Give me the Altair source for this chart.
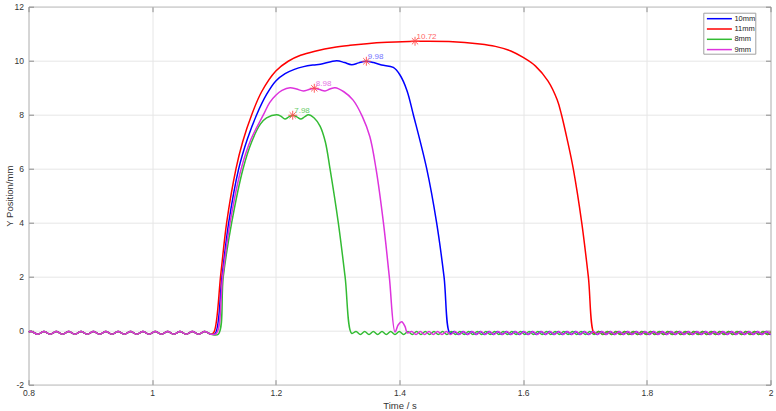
import altair as alt
import pandas as pd

series_names = ["10mm", "11mm", "8mm", "9mm"]
series_colors = ["#0000ff", "#ff0000", "#33bb33", "#dd33dd"]

x_ticks = [0.8, 1.0, 1.2, 1.4, 1.6, 1.8, 2.0]
y_ticks = [-2, 0, 2, 4, 6, 8, 10, 12]

# baseline ripple before the rise (all four series coincide here)
pre_t = [0.800, 0.805, 0.815, 0.825, 0.835, 0.845, 0.855, 0.865, 0.875, 0.885,
         0.895, 0.905, 0.915, 0.925, 0.935, 0.945, 0.955, 0.965, 0.975, 0.985,
         0.995, 1.005, 1.015, 1.025, 1.035, 1.045, 1.055, 1.065, 1.075, 1.085, 1.095]
pre_y = [-0.04, -0.03, -0.13, -0.03, -0.13, -0.03, -0.13, -0.03, -0.13, -0.03,
         -0.13, -0.03, -0.13, -0.03, -0.13, -0.03, -0.13, -0.03, -0.13, -0.03,
         -0.13, -0.03, -0.13, -0.03, -0.13, -0.03, -0.13, -0.03, -0.13, -0.03, -0.13]

# main stroke of each series (rise, plateau, fall)
t_10mm = [1.102, 1.1129, 1.1238, 1.140, 1.154, 1.169, 1.185, 1.200, 1.215, 1.230,
          1.245, 1.2606, 1.272, 1.2985, 1.311, 1.3227, 1.334, 1.346, 1.358, 1.371,
          1.390, 1.4008, 1.412, 1.4224, 1.444, 1.460, 1.472, 1.4817]
y_10mm = [-0.1, 2.0, 4.0, 6.0, 7.1, 8.0, 8.75, 9.25, 9.52, 9.68,
          9.78, 9.84, 9.87, 10.0, 9.93, 9.85, 9.92, 9.98, 9.93, 9.84,
          9.75, 9.47, 8.9, 8.0, 6.0, 4.0, 2.0, -0.1]

t_11mm = [1.100, 1.111, 1.1205, 1.1356, 1.1464, 1.161, 1.177, 1.200, 1.220, 1.240,
          1.265, 1.293, 1.320, 1.347, 1.380, 1.425, 1.480, 1.530, 1.555, 1.580,
          1.600, 1.620, 1.640, 1.655, 1.662, 1.672, 1.681, 1.6947, 1.7054, 1.7151]
y_11mm = [-0.05, 2.1, 4.0, 6.0, 7.0, 8.0, 8.85, 9.62, 9.98, 10.2,
          10.36, 10.49, 10.57, 10.63, 10.68, 10.72, 10.71, 10.62, 10.53, 10.36,
          10.12, 9.8, 9.25, 8.55, 8.0, 7.0, 6.0, 4.0, 2.0, -0.1]

t_8mm = [1.107, 1.115, 1.1286, 1.147, 1.161, 1.175, 1.185, 1.2014, 1.208, 1.2148,
         1.221, 1.2273, 1.234, 1.2403, 1.247, 1.2526, 1.262, 1.2715, 1.280, 1.2876,
         1.301, 1.312, 1.3227]
y_8mm = [-0.13, 2.0, 4.0, 6.0, 7.0, 7.65, 7.88, 8.0, 7.95, 7.84,
         7.92, 7.98, 7.92, 7.84, 7.93, 8.0, 7.88, 7.58, 7.0, 6.0,
         4.0, 2.0, -0.1]

t_9mm = [1.104, 1.114, 1.126, 1.144, 1.160, 1.180, 1.190, 1.200, 1.210, 1.223,
         1.2335, 1.2445, 1.2535, 1.2622, 1.271, 1.2796, 1.2875, 1.2957, 1.310, 1.325,
         1.340, 1.352, 1.362, 1.374, 1.3835, 1.3928, 1.398, 1.4036, 1.409, 1.4127]
y_9mm = [-0.1, 2.0, 4.0, 6.0, 7.1, 8.0, 8.45, 8.72, 8.9, 9.0,
         8.95, 8.88, 8.93, 8.98, 8.93, 8.88, 8.95, 9.0, 8.85, 8.54,
         7.93, 7.19, 6.0, 4.0, 2.0, -0.05, 0.22, 0.33, 0.15, -0.08]

# residual ripple after each fall, sampled every half period (0.007 s)
rip_half = 0.007
rip_10mm = [-0.03, -0.14, -0.03, -0.14, -0.03, -0.14, -0.03, -0.14, -0.03, -0.14,
            -0.03, -0.14, -0.03, -0.14, -0.03, -0.14, -0.03, -0.14, -0.03, -0.14,
            -0.03, -0.14, -0.03, -0.14, -0.03, -0.14, -0.03, -0.14, -0.03, -0.14,
            -0.03, -0.14, -0.03, -0.14, -0.03, -0.14, -0.03, -0.14, -0.03, -0.14,
            -0.03, -0.14, -0.03, -0.14, -0.03, -0.14, -0.03, -0.14, -0.03, -0.14,
            -0.03, -0.14, -0.03, -0.14, -0.03, -0.14, -0.03, -0.14, -0.03, -0.14,
            -0.03, -0.14, -0.03, -0.14, -0.03, -0.14, -0.03, -0.14, -0.03, -0.14,
            -0.03, -0.14, -0.03, -0.14, -0.03]
rip_11mm = [-0.03, -0.14, -0.03, -0.14, -0.03, -0.14, -0.03, -0.14, -0.03, -0.14,
            -0.03, -0.14, -0.03, -0.14, -0.03, -0.14, -0.03, -0.14, -0.03, -0.14,
            -0.03, -0.14, -0.03, -0.14, -0.03, -0.14, -0.03, -0.14, -0.03, -0.14,
            -0.03, -0.14, -0.03, -0.14, -0.03, -0.14, -0.03, -0.14, -0.03, -0.14,
            -0.03]
rip_8mm = [-0.03, -0.14, -0.03, -0.14, -0.03, -0.14, -0.03, -0.14, -0.03, -0.14,
           -0.03, -0.14, -0.03, -0.14, -0.03, -0.14, -0.03, -0.14, -0.03, -0.14,
           -0.03, -0.14, -0.03, -0.14, -0.03, -0.14, -0.03, -0.14, -0.03, -0.14,
           -0.03, -0.14, -0.03, -0.14, -0.03, -0.14, -0.03, -0.14, -0.03, -0.14,
           -0.03, -0.14, -0.03, -0.14, -0.03, -0.14, -0.03, -0.14, -0.03, -0.14,
           -0.03, -0.14, -0.03, -0.14, -0.03, -0.14, -0.03, -0.14, -0.03, -0.14,
           -0.03, -0.14, -0.03, -0.14, -0.03, -0.14, -0.03, -0.14, -0.03, -0.14,
           -0.03, -0.14, -0.03, -0.14, -0.03, -0.14, -0.03, -0.14, -0.03, -0.14,
           -0.03, -0.14, -0.03, -0.14, -0.03, -0.14, -0.03, -0.14, -0.03, -0.14,
           -0.03, -0.14, -0.03, -0.14, -0.03, -0.14, -0.03]
rip_9mm = [-0.03, -0.14, -0.03, -0.14, -0.03, -0.14, -0.03, -0.14, -0.03, -0.14,
           -0.03, -0.14, -0.03, -0.14, -0.03, -0.14, -0.03, -0.14, -0.03, -0.14,
           -0.03, -0.14, -0.03, -0.14, -0.03, -0.14, -0.03, -0.14, -0.03, -0.14,
           -0.03, -0.14, -0.03, -0.14, -0.03, -0.14, -0.03, -0.14, -0.03, -0.14,
           -0.03, -0.14, -0.03, -0.14, -0.03, -0.14, -0.03, -0.14, -0.03, -0.14,
           -0.03, -0.14, -0.03, -0.14, -0.03, -0.14, -0.03, -0.14, -0.03, -0.14,
           -0.03, -0.14, -0.03, -0.14, -0.03, -0.14, -0.03, -0.14, -0.03, -0.14,
           -0.03, -0.14, -0.03, -0.14, -0.03, -0.14, -0.03, -0.14, -0.03, -0.14,
           -0.03, -0.14, -0.03, -0.14]

# peak annotations
peak_t = [1.3464, 1.4251, 1.2273, 1.2622]
peak_y = [9.98, 10.72, 7.98, 8.98]
peak_labels = ["9.98", "10.72", "7.98", "8.98"]
peak_text_colors = ["#5c5cff", "#ff4d4d", "#4cc44c", "#e05ce0"]

main_parts = {
    "10mm": (t_10mm, y_10mm, rip_10mm),
    "11mm": (t_11mm, y_11mm, rip_11mm),
    "8mm": (t_8mm, y_8mm, rip_8mm),
    "9mm": (t_9mm, y_9mm, rip_9mm),
}


def series_frame(name):
    t_main, y_main, rip = main_parts[name]
    t_end = t_main[-1]
    rip_t = [round(t_end + rip_half * (i + 1), 4) for i in range(len(rip))]
    return pd.DataFrame({
        "t": pre_t + t_main + rip_t,
        "y": pre_y + y_main + rip,
        "series": name,
    })


x_scale = alt.Scale(domain=[0.8, 2.0], nice=False, zero=False)
y_scale = alt.Scale(domain=[-2, 12], nice=False, zero=False)
color_scale = alt.Scale(domain=series_names, range=series_colors)

x_axis = alt.Axis(title="Time / s", values=x_ticks, format="~g", labelFlush=False,
                  labelOverlap=False, labelPadding=4, titlePadding=3, orient="bottom")
y_axis = alt.Axis(title="Y Position/mm", values=y_ticks,
                  labelExpr="replace(datum.label, '\u2212', '-')",
                  labelPadding=5, titlePadding=0, orient="left")

tick_style = dict(labels=False, grid=False, domain=False, ticks=True, tickSize=5,
                  tickColor="#8c8c8c", tickWidth=1, title=None, offset=-5)

legend = alt.Legend(orient="none", legendX=674.8, legendY=6, direction="vertical",
                    symbolType="M-2.5,0H2.5", symbolSize=100, symbolStrokeWidth=1.5,
                    symbolOffset=10.1, labelOffset=9,
                    labelFontSize=7.5, labelFont="Liberation Sans", labelColor="#222222",
                    padding=0, strokeColor="#a0a0a0", fillColor="white", rowPadding=0.3)

layers = []
for i, name in enumerate(series_names):
    layers.append(
        alt.Chart(series_frame(name)).mark_line(strokeWidth=1.5, interpolate="catmull-rom", clip=True)
        .encode(
            x=alt.X("t:Q", scale=x_scale, axis=x_axis if i == 0 else None),
            y=alt.Y("y:Q", scale=y_scale, axis=y_axis if i == 0 else None),
            color=alt.Color("series:N", scale=color_scale, legend=legend, title=None),
        )
    )

ann = pd.DataFrame({"t": peak_t, "y": peak_y, "label": peak_labels, "tc": peak_text_colors})

markers = alt.Chart(ann).mark_point(
    shape="M-1,0L1,0M0,-1L0,1M-0.7,-0.7L0.7,0.7M-0.7,0.7L0.7,-0.7",
    size=80, filled=False, color="#ff4d4d", strokeWidth=1, opacity=0.9,
).encode(x=alt.X("t:Q", scale=x_scale, axis=None), y=alt.Y("y:Q", scale=y_scale, axis=None))

texts = alt.Chart(ann).mark_text(
    align="left", baseline="alphabetic", dx=1.5, dy=-2.5, fontSize=8,
    font="Liberation Sans", opacity=0.85,
).encode(
    x=alt.X("t:Q", scale=x_scale, axis=None), y=alt.Y("y:Q", scale=y_scale, axis=None),
    text="label:N",
    fill=alt.Fill("tc:N", scale=None, legend=None),
)

# inward tick marks on all four sides (MATLAB box style)
ticks_bl = alt.Chart(ann).mark_point(opacity=0).encode(
    x=alt.X("t:Q", scale=x_scale, axis=alt.Axis(values=x_ticks, orient="bottom", **tick_style)),
    y=alt.Y("y:Q", scale=y_scale, axis=alt.Axis(values=y_ticks, orient="left", **tick_style)),
)
ticks_tr = alt.Chart(ann).mark_point(opacity=0).encode(
    x=alt.X("t:Q", scale=x_scale, axis=alt.Axis(values=x_ticks, orient="top", **tick_style)),
    y=alt.Y("y:Q", scale=y_scale, axis=alt.Axis(values=y_ticks, orient="right", **tick_style)),
)

chart = (
    alt.layer(*layers, markers, texts, ticks_bl, ticks_tr)
    .resolve_axis(x="independent", y="independent")
    .properties(width=742, height=378,
                padding={"left": 28.5, "top": 6.7, "right": 5.5, "bottom": 26.3},
                autosize=alt.AutoSizeParams(type="none"))
    .configure_view(stroke="#8c8c8c", strokeWidth=1)
    .configure_axis(labelFont="Liberation Sans", titleFont="Liberation Sans",
                    labelFontSize=8.5, titleFontSize=9.5, labelColor="#333333",
                    titleColor="#333333", titleFontWeight="normal",
                    gridColor="#e6e6e6", gridWidth=1, domain=False, ticks=False)
)

chart.save("out.html", embed_options={"renderer": "svg", "actions": False})
